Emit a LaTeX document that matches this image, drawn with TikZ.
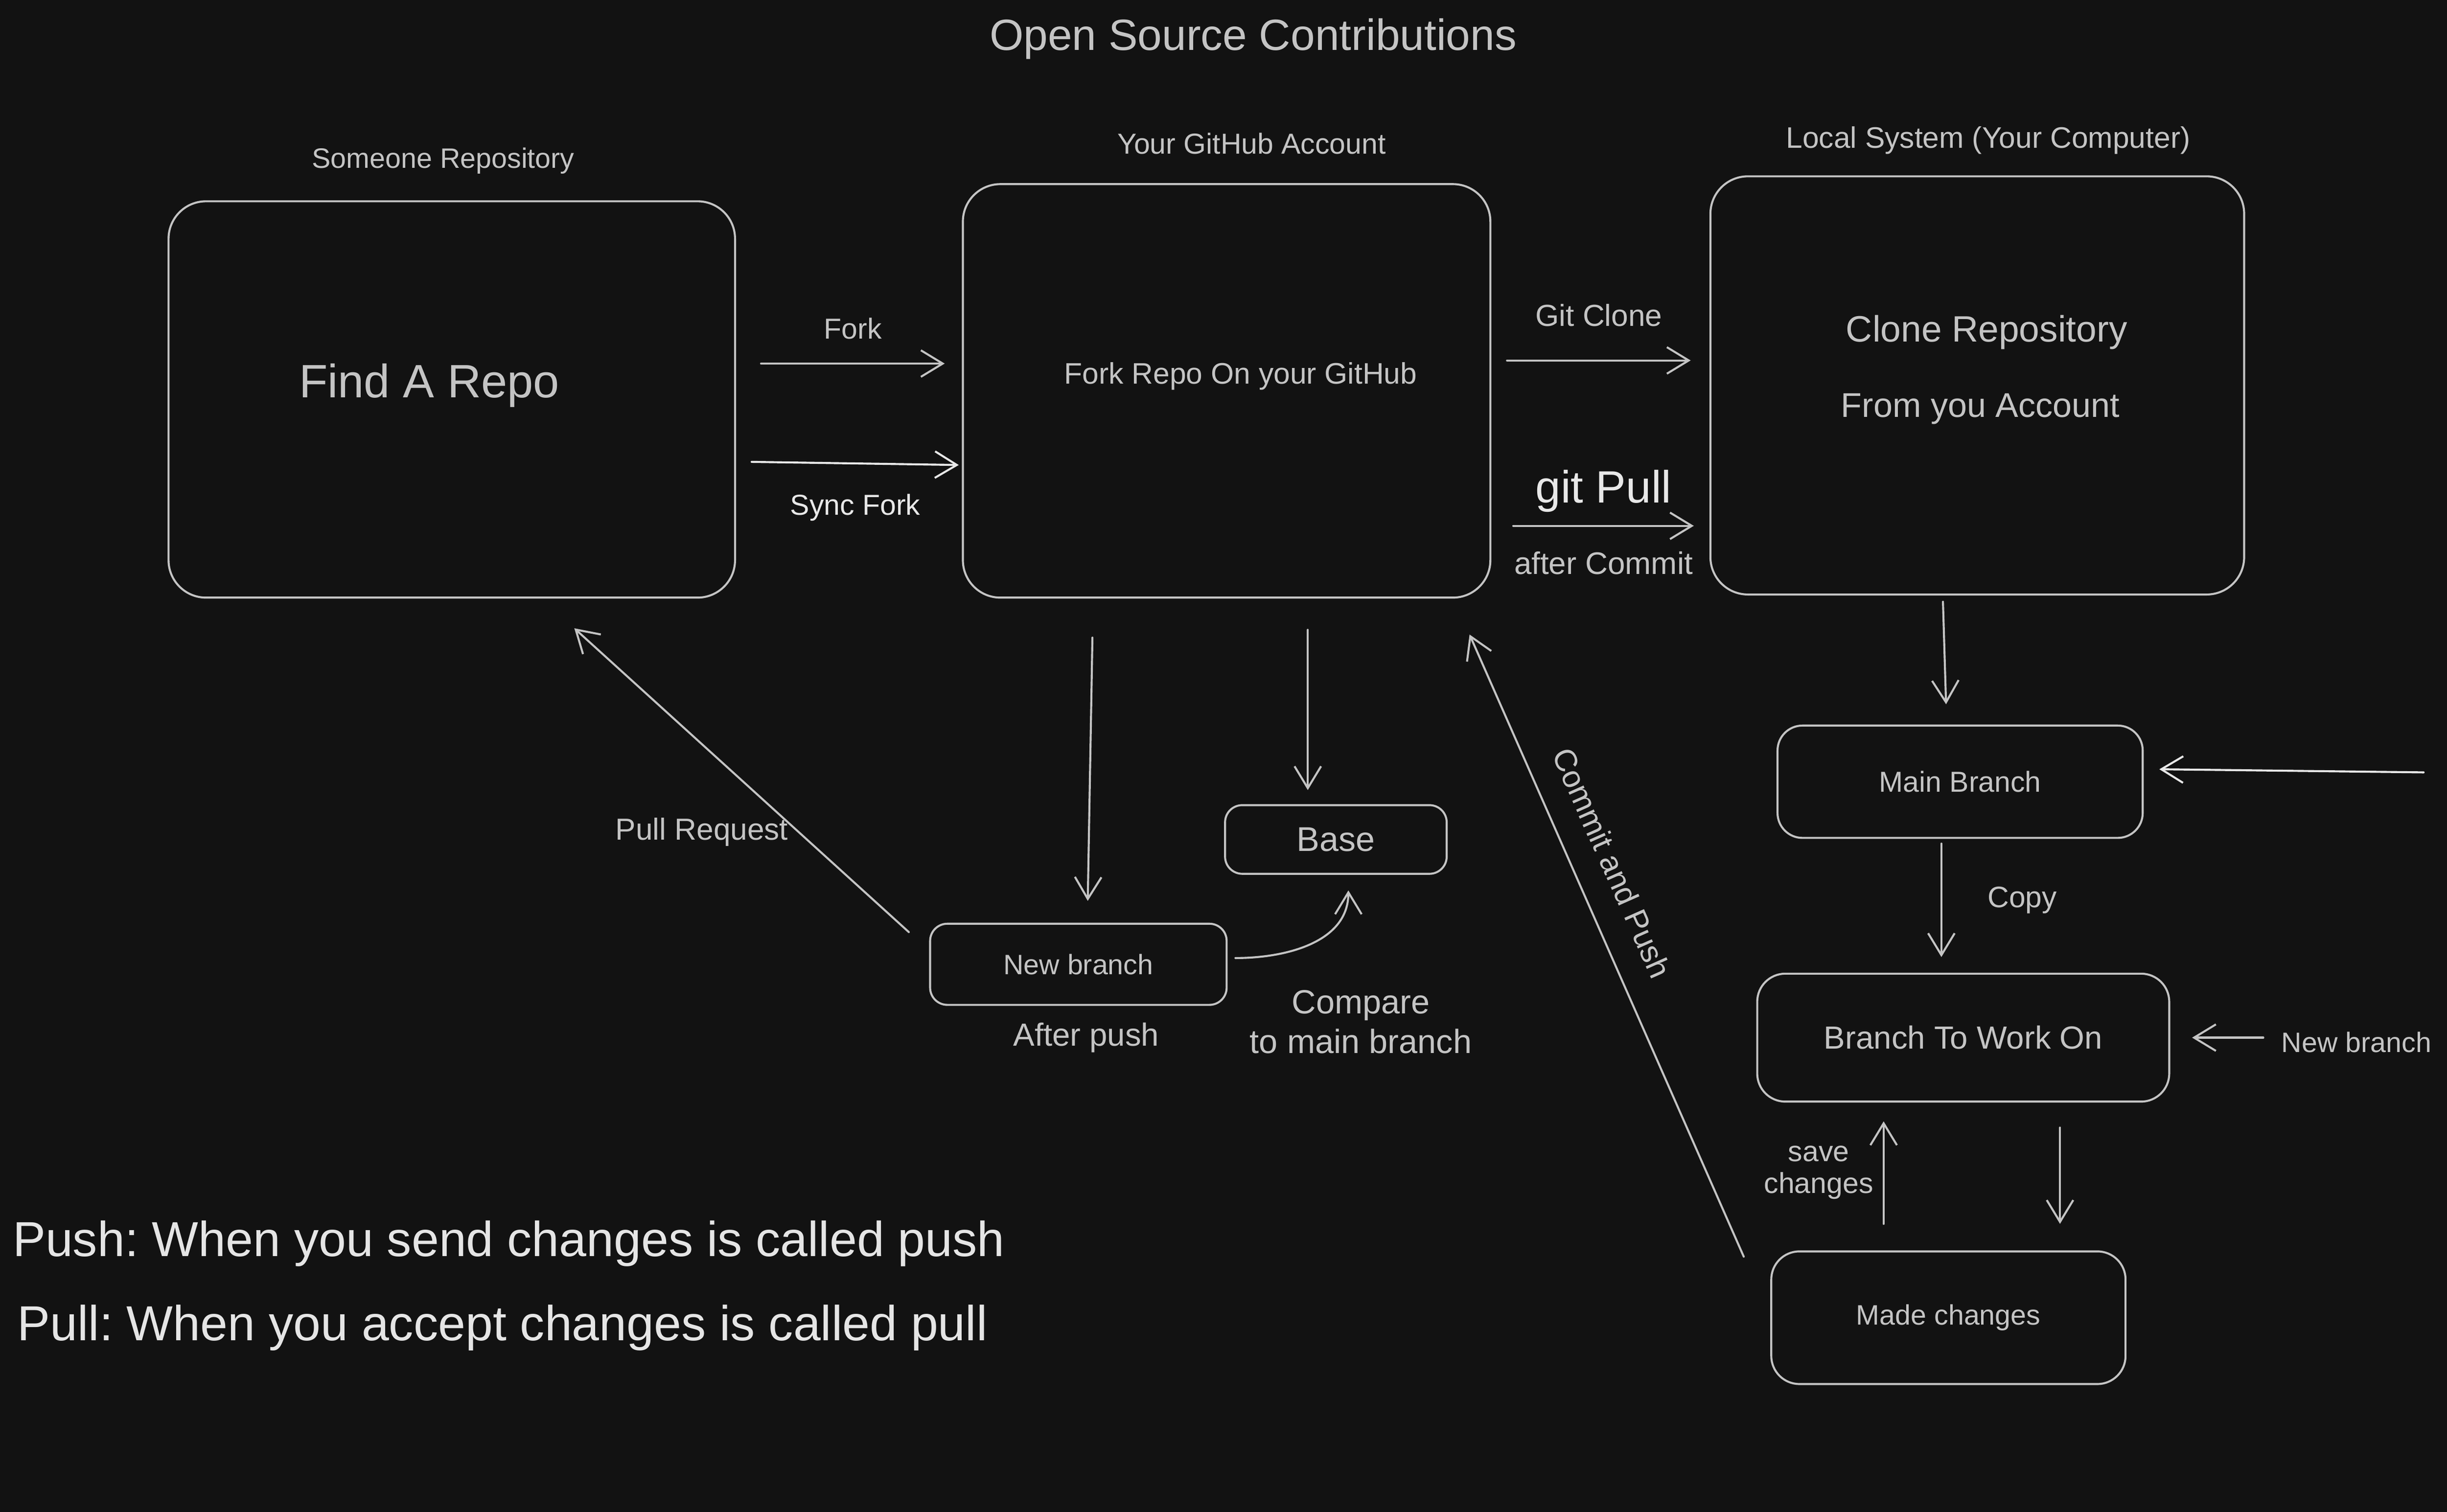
\documentclass[tikz,border=0pt]{standalone}
\usepackage{fontspec}
\setmainfont{Liberation Sans}
\usepackage{tikz}
\usetikzlibrary{
    arrows.meta,  % barb tips
    calc,  % offsets from anchors
}
\definecolor{bg}{HTML}{121212}
\definecolor{ink}{HTML}{C4C4C4}
\definecolor{inkhi}{HTML}{E8E8E8}
\newcommand{\fs}[1]{\fontsize{#1}{#1}\selectfont}
\frenchspacing
\tikzset{
    box/.style={draw=ink, line width=1.3pt, rounded corners=24pt, inner sep=0pt},
    smallbox/.style={draw=ink, line width=1.3pt, rounded corners=11pt, inner sep=0pt, text=ink},
    arr/.style={draw=ink, line width=1.3pt, line cap=round, -{Straight Barb[length=14pt,width=17pt,line width=1.3pt]}},
    lbl/.style={text=ink, inner sep=0pt},
}

\begin{document}
\begin{tikzpicture}[x=1pt, y=-1pt]
    \fill[bg] (0,0) rectangle (1568,969);

    \node[lbl, font=\fs{28}] (title) at (803,25) {Open Source Contributions};

    % top row
    \node[box, minimum width=363pt, minimum height=254pt] (repo) at (289.5,256) {};
    \node[box, minimum width=338pt, minimum height=265pt] (gh) at (786,250.5) {};
    \node[box, minimum width=342pt, minimum height=268pt] (loc) at (1267,247) {};
    \node[lbl, font=\fs{18}] (repolbl) at (284,103) {Someone Repository};
    \node[lbl, font=\fs{18.5}] (ghlbl) at (802,92) {Your GitHub Account};
    \node[lbl, font=\fs{19}] (loclbl) at (1274,90) {Local System (Your Computer)};
    \node[lbl, font=\fs{30}] (repotxt) at (275,247) {Find A Repo};
    \node[lbl, font=\fs{19}] (ghtxt) at (795,241) {Fork Repo On your GitHub};
    \node[lbl, font=\fs{23.5}] (loctxt) at (1273,213) {Clone Repository};
    \node[lbl, font=\fs{22}] (loctxtb) at (1269,262) {From you Account};

    \draw[arr] ($(repo.east)+(16,-23)$) -- node[lbl, above=15pt, font=\fs{18.5}] {Fork} ($(gh.west)+(-11,-17.5)$);
    \draw[arr, draw=inkhi] ($(repo.east)+(10,40)$) -- node[lbl, below=19pt, font=\fs{18.5}, text=inkhi] {Sync Fork} ($(gh.west)+(-2,47.5)$);
    \draw[arr] ($(gh.east)+(10,-19.5)$) -- node[lbl, above=21pt, font=\fs{19.5}] {Git Clone} ($(loc.west)+(-12,-16)$);
    \draw[arr] ($(gh.east)+(14,86.5)$) -- node[lbl, above=8pt, font=\fs{29}, text=inkhi] {git Pull}
        node[lbl, below=16pt, font=\fs{20}] {after Commit} ($(loc.west)+(-10,90)$);

    % middle
    \node[smallbox, minimum width=190pt, minimum height=52pt, font=\fs{18}] (newb) at (691,618) {New branch};
    \node[smallbox, minimum width=142pt, minimum height=44pt, font=\fs{22}] (base) at (856,538) {Base};
    \node[lbl, font=\fs{20.5}] (afterpush) at (696,665) {After push};
    \node[lbl, font=\fs{21.5}, align=center] (compare) at (872,655) {Compare\\[4pt]to main branch};

    \draw[arr] ($(gh.south)+(-86,25)$) -- ($(newb.north)+(6,-14)$);
    \draw[arr] ($(gh.south)+(52,20)$) -- ($(base.north)+(-18,-9)$);
    \draw[arr] ($(newb.east)+(5,-4)$) to[out=0, in=-90] ($(base.south)+(8,10)$);
    \draw[arr] ($(newb.north west)+(-13,6)$) -- node[lbl, pos=0.33, left=6pt, font=\fs{19.5}] {Pull Request} ($(repo.south)+(78.5,19)$);

    % right column
    \node[box, rounded corners=16pt, minimum width=234pt, minimum height=72pt, text=ink, font=\fs{18.5}] (main) at (1256,501) {Main Branch};
    \node[box, rounded corners=18pt, minimum width=264pt, minimum height=82pt, text=ink, font=\fs{20.5}] (work) at (1258,665) {Branch To Work On};
    \node[box, rounded corners=18pt, minimum width=227pt, minimum height=85pt, text=ink, font=\fs{18}] (made) at (1248.5,844.5) {Made changes};
    \node[lbl, font=\fs{18}] (newlbl) at (1510,668) {New branch};
    \coordinate (feed) at (1553,495);

    \draw[arr] ($(loc.south)+(-22,4)$) -- ($(main.north)+(-9,-13)$);
    \draw[arr, draw=inkhi] (feed) -- ($(main.east)+(10,-8)$);
    \draw[arr] ($(main.south)+(-12,3)$) -- node[lbl, right=29pt, font=\fs{19}] {Copy} ($(work.north)+(-14,-10)$);
    \draw[arr] ($(newlbl.west)+(-11.5,-3)$) -- ($(work.east)+(14,0)$);
    \draw[arr] ($(made.north)+(-41.5,-17)$) -- node[lbl, left=6pt, font=\fs{18.5}, align=center] {save\\[2pt]changes} ($(work.south)+(-51,12)$);
    \draw[arr] ($(work.south)+(62,16)$) -- ($(made.north)+(71.5,-17)$);
    \draw[arr] ($(made.north west)+(-17,4)$) -- ($(gh.south east)+(-14,23)$);
    \node[lbl, font=\fs{20}, rotate=-66] (commitlbl) at (1033,553) {Commit and Push};

    % legend
    \node[lbl, font=\fs{31.5}, text=inkhi!92!ink, anchor=west] (pushdef) at (8,797) {Push: When you send changes is called push};
    \node[lbl, font=\fs{31.5}, text=inkhi!92!ink, anchor=west] (pulldef) at (11,851) {Pull: When you accept changes is called pull};
\end{tikzpicture}
\end{document}
